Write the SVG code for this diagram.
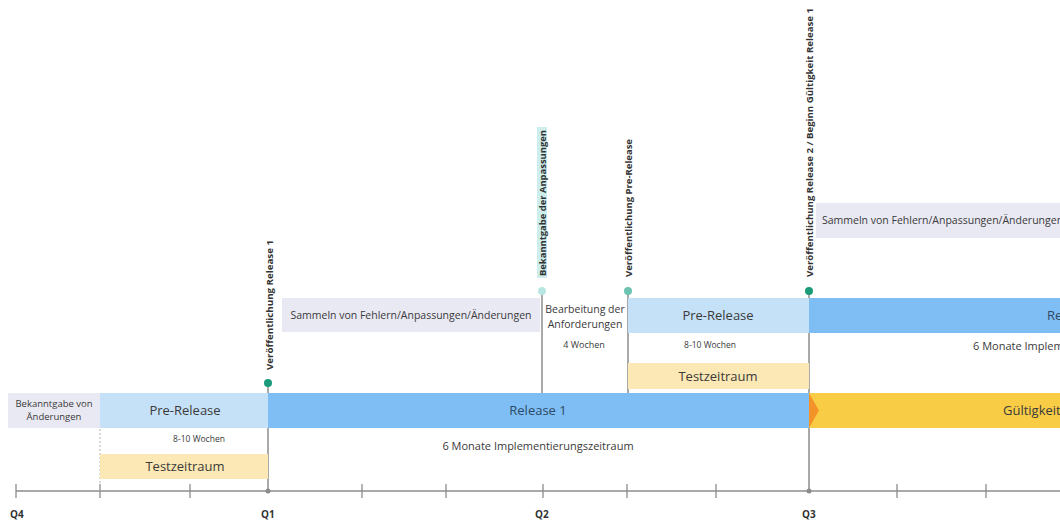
<svg xmlns="http://www.w3.org/2000/svg" width="1060" height="521" viewBox="0 0 1060 521">
<style>
text{font-family:"Open Sans","Noto Sans","Liberation Sans",sans-serif;fill:#3a3a3a}
.lav{fill:#e9e9f3}
.lb{fill:#c5e1f8}
.bl{fill:#7fbef4}
.ly{fill:#fbe8b4}
.gd{fill:#f9cc45}
.big{font-size:13px;text-anchor:middle}
.rel{font-size:13px;fill:#2e4a66;text-anchor:middle}
.sm{font-size:10.5px}
.imp{font-size:11px}
.xs{font-size:8.5px;text-anchor:middle}
.vl{font-size:9px;font-weight:700;fill:#333}
.q{font-size:10px;font-weight:700;fill:#333}
.ax{stroke:#8c8c8c;stroke-width:1.3;fill:none}
.con{stroke:#8c8c8c;stroke-width:1.5;fill:none}
</style>
<rect width="1060" height="521" fill="#ffffff"/>

<g id="axis">
<line class="ax" x1="16" y1="491" x2="1060" y2="491"/>
<path class="ax" d="M16 484V498M100 484V498M190 484V498M362 484V498M446 484V498M543 484V498M627 484V498M716 484V498M897 484V498M986 484V498"/>
<circle cx="268" cy="491" r="2.5" fill="#8c8c8c"/>
<circle cx="809" cy="491" r="2.5" fill="#8c8c8c"/>
<text class="q" x="10" y="518">Q4</text>
<text class="q" x="261" y="518">Q1</text>
<text class="q" x="535" y="518">Q2</text>
<text class="q" x="802" y="518">Q3</text>
</g>

<g id="connectors">
<line x1="100" y1="393" x2="100" y2="491" stroke="#b0b0b0" stroke-width="1" stroke-dasharray="2 2"/>
<line class="con" x1="268" y1="383" x2="268" y2="491"/>
<line class="con" x1="542" y1="291" x2="542" y2="393"/>
<line class="con" x1="628" y1="291" x2="628" y2="393"/>
<line class="con" x1="809" y1="291" x2="809" y2="491"/>
</g>

<g id="bekanntgabe-aenderungen">
<rect class="lav" x="8" y="393" width="92" height="35"/>
<text x="54" y="407" text-anchor="middle" font-size="9.5">Bekanntgabe von</text>
<text x="54" y="420" text-anchor="middle" font-size="9.5">Änderungen</text>
</g>

<g id="pre-release-1">
<rect class="lb" x="100" y="393" width="168" height="35"/>
<text class="big" x="185" y="415">Pre-Release</text>
<text class="xs" x="199" y="442">8-10 Wochen</text>
</g>

<g id="testzeitraum-1">
<rect class="ly" x="100" y="454" width="168" height="25"/>
<text class="big" x="185" y="471">Testzeitraum</text>
</g>

<g id="release-1">
<rect class="bl" x="268" y="393" width="541" height="35"/>
<text class="rel" x="538" y="415">Release 1</text>
<text class="imp" x="538" y="450" text-anchor="middle">6 Monate Implementierungszeitraum</text>
</g>

<g id="gueltigkeit">
<rect class="gd" x="809" y="393" width="251" height="35"/>
<path d="M809 393L819 410.5L809 428Z" fill="#f39228"/>
<text x="1003" y="415" font-size="13">Gültigkeit Release 1</text>
</g>

<g id="sammeln-1">
<rect class="lav" x="282" y="298" width="258" height="34"/>
<text class="sm" x="411" y="319" text-anchor="middle">Sammeln von Fehlern/Anpassungen/Änderungen</text>
</g>

<g id="bearbeitung">
<text x="585" y="313" text-anchor="middle" font-size="10.5">Bearbeitung der</text>
<text x="585" y="328" text-anchor="middle" font-size="10.5">Anforderungen</text>
<text x="584" y="348" text-anchor="middle" font-size="9">4 Wochen</text>
</g>

<g id="pre-release-2">
<rect class="lb" x="628" y="298" width="181" height="35"/>
<text class="big" x="718" y="320">Pre-Release</text>
<text class="xs" x="710" y="348">8-10 Wochen</text>
</g>

<g id="testzeitraum-2">
<rect class="ly" x="628" y="363" width="181" height="26"/>
<text class="big" x="718" y="381">Testzeitraum</text>
</g>

<g id="release-2">
<rect class="bl" x="809" y="298" width="251" height="35"/>
<text x="1047" y="320" font-size="13" style="fill:#2e4a66">Release 2</text>
<text class="imp" x="973" y="350">6 Monate Implementierungszeitraum</text>
</g>

<g id="sammeln-2">
<rect class="lav" x="816" y="203" width="244" height="35"/>
<text class="sm" x="822" y="224">Sammeln von Fehlern/Anpassungen/Änderungen</text>
</g>

<g id="ms-release-1">
<circle cx="268" cy="383" r="4" fill="#1a9c7b"/>
<text class="vl" transform="translate(272.5,370) rotate(-90)" textLength="130" lengthAdjust="spacingAndGlyphs">Veröffentlichung Release 1</text>
</g>

<g id="ms-bekanntgabe-anpassungen">
<rect x="537" y="127" width="10" height="151" fill="#cdeeed"/>
<circle cx="542" cy="291" r="4" fill="#b8e6e2"/>
<text class="vl" transform="translate(545.5,276) rotate(-90)" textLength="146" lengthAdjust="spacingAndGlyphs">Bekanntgabe der Anpassungen</text>
</g>

<g id="ms-pre-release">
<circle cx="628" cy="291" r="4" fill="#6cc4b0"/>
<text class="vl" transform="translate(631.5,277) rotate(-90)" textLength="138" lengthAdjust="spacingAndGlyphs">Veröffentlichung Pre-Release</text>
</g>

<g id="ms-release-2">
<circle cx="809" cy="291" r="4" fill="#1a9c7b"/>
<text class="vl" transform="translate(812.5,277) rotate(-90)" textLength="269" lengthAdjust="spacingAndGlyphs">Veröffentlichung Release 2 / Beginn Gültigkeit Release 1</text>
</g>
</svg>
